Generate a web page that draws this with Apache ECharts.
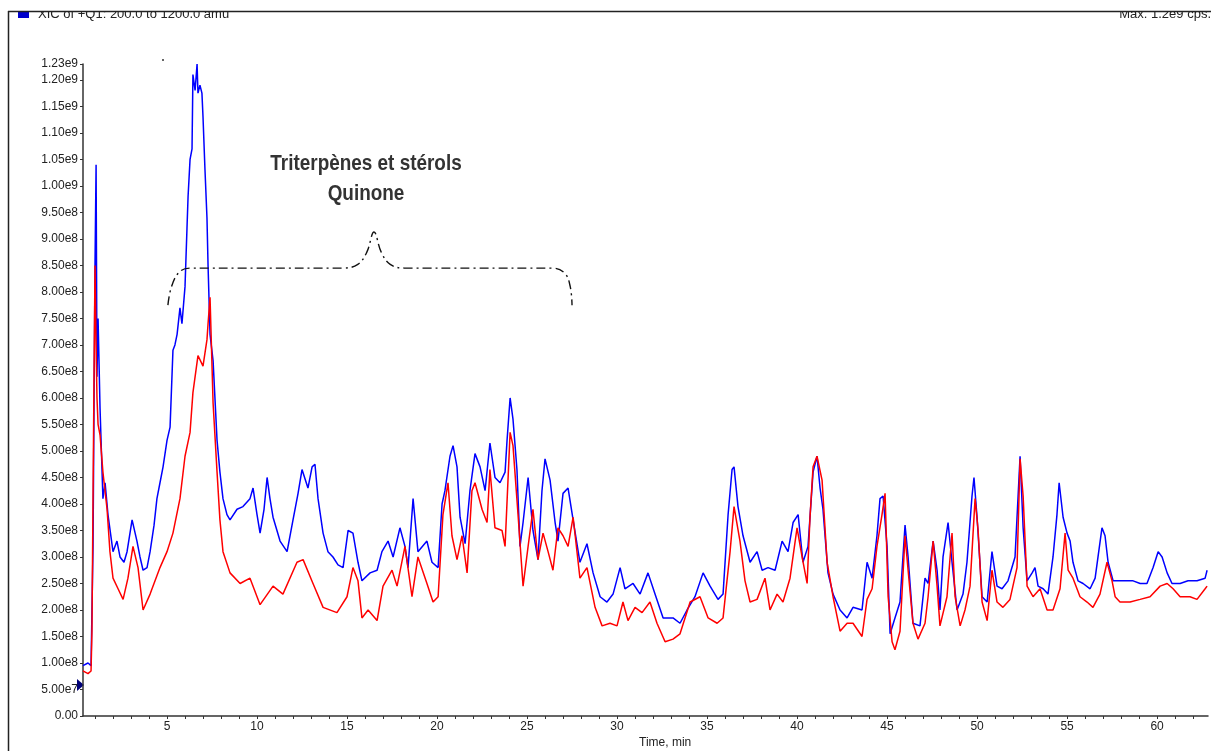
<!DOCTYPE html>
<html>
<head>
<meta charset="utf-8">
<style>
  html, body { margin: 0; padding: 0; background: #fff; }
  #main { width: 1211px; height: 751px; }
</style>
<script src="https://cdn.jsdelivr.net/npm/echarts@6/dist/echarts.min.js"></script>
</head>
<body>
<div id="main"></div>
<script>
// XIC of +Q1 chromatogram, two traces (intensity in units of 1e8 cps)
const blueT = [0.33, 0.61, 0.78, 0.89, 1.00, 1.06, 1.11, 1.17, 1.28, 1.44, 1.56, 1.72, 2.00, 2.22, 2.39, 2.61, 2.78, 3.06, 3.33, 3.50,
  3.67, 3.89, 4.06, 4.28, 4.44, 4.61, 4.78, 5.00, 5.17, 5.33, 5.44, 5.56, 5.72, 5.83, 6.00, 6.11, 6.17, 6.28, 6.39, 6.44,
  6.56, 6.67, 6.72, 6.83, 6.94, 7.00, 7.11, 7.22, 7.28, 7.39, 7.56, 7.78, 7.94, 8.11, 8.33, 8.50, 8.89, 9.22, 9.61, 9.78,
  10.00, 10.17, 10.39, 10.56, 10.72, 10.89, 11.28, 11.67, 12.00, 12.28, 12.50, 12.83, 13.06, 13.22, 13.39, 13.67, 13.94, 14.22, 14.50, 14.78,
  15.06, 15.33, 15.61, 15.83, 16.28, 16.67, 16.94, 17.28, 17.56, 17.94, 18.22, 18.39, 18.67, 18.94, 19.44, 19.72, 20.06, 20.28, 20.44, 20.72,
  20.89, 21.11, 21.28, 21.56, 21.83, 22.11, 22.39, 22.67, 22.94, 23.22, 23.50, 23.78, 23.89, 24.06, 24.22, 24.44, 24.61, 24.78, 25.06, 25.33,
  25.61, 25.83, 26.00, 26.28, 26.56, 26.72, 27.00, 27.28, 27.56, 27.94, 28.33, 28.67, 29.06, 29.44, 29.78, 30.17, 30.44, 30.89, 31.28, 31.72,
  32.11, 32.56, 33.11, 33.50, 33.89, 34.33, 34.78, 35.17, 35.61, 35.89, 36.17, 36.39, 36.50, 36.72, 37.00, 37.39, 37.78, 38.06, 38.39, 38.78,
  39.17, 39.50, 39.78, 40.06, 40.33, 40.61, 40.89, 41.11, 41.28, 41.44, 41.72, 42.00, 42.39, 42.78, 43.11, 43.61, 43.89, 44.17, 44.44, 44.61,
  44.78, 45.00, 45.17, 45.44, 45.72, 46.00, 46.17, 46.44, 46.83, 47.11, 47.28, 47.56, 47.78, 47.94, 48.11, 48.39, 48.61, 48.89, 49.22, 49.44,
  49.72, 49.83, 50.00, 50.28, 50.56, 50.83, 51.11, 51.39, 51.72, 52.11, 52.28, 52.39, 52.56, 52.78, 53.06, 53.22, 53.39, 53.67, 53.94, 54.22,
  54.44, 54.56, 54.78, 55.00, 55.17, 55.33, 55.61, 55.89, 56.28, 56.56, 56.72, 56.94, 57.11, 57.28, 57.56, 57.94, 58.33, 58.67, 59.06, 59.44,
  59.78, 60.06, 60.28, 60.56, 60.83, 61.28, 61.72, 62.22, 62.67, 62.78];
const blueV = [0.95, 1.0, 0.95, 3.2, 8.5, 10.4, 6.4, 7.5, 5.8, 4.1, 4.4, 3.8, 3.1, 3.3, 3.0, 2.9, 3.1, 3.7, 3.3, 3.0,
  2.75, 2.8, 3.1, 3.6, 4.1, 4.4, 4.7, 5.2, 5.45, 6.9, 7.0, 7.2, 7.7, 7.4, 8.1, 9.2, 9.8, 10.5, 10.7, 12.1,
  11.8, 12.3, 11.75, 11.9, 11.75, 11.3, 10.3, 9.4, 8.5, 7.2, 6.7, 5.2, 4.6, 4.1, 3.8, 3.7, 3.9, 3.95, 4.1, 4.3,
  3.8, 3.45, 3.9, 4.5, 4.1, 3.75, 3.3, 3.1, 3.7, 4.2, 4.65, 4.3, 4.7, 4.75, 4.1, 3.45, 3.1, 3.0, 2.85, 2.8,
  3.5, 3.45, 2.9, 2.55, 2.7, 2.75, 3.1, 3.3, 3.0, 3.55, 3.2, 2.8, 4.1, 3.1, 3.3, 2.9, 2.8, 4.0, 4.25, 4.9,
  5.1, 4.7, 3.75, 3.25, 4.25, 4.95, 4.7, 4.25, 5.15, 4.5, 4.4, 4.6, 5.2, 6.0, 5.6, 4.65, 3.2, 3.65, 4.5, 3.5,
  2.95, 4.25, 4.85, 4.45, 3.65, 3.3, 4.2, 4.3, 3.7, 2.9, 3.25, 2.7, 2.25, 2.15, 2.3, 2.8, 2.4, 2.5, 2.3, 2.7,
  2.3, 1.85, 1.85, 1.75, 2.0, 2.25, 2.7, 2.45, 2.2, 2.3, 3.8, 4.65, 4.7, 3.95, 3.4, 2.9, 3.1, 2.75, 2.8, 2.75,
  3.3, 3.1, 3.65, 3.8, 2.9, 3.2, 4.6, 4.9, 4.3, 3.9, 2.7, 2.3, 2.0, 1.85, 2.05, 2.0, 2.9, 2.6, 3.4, 4.1,
  4.15, 3.2, 1.55, 1.85, 2.15, 3.6, 3.0, 1.75, 1.7, 2.6, 2.5, 3.3, 2.75, 2.0, 3.0, 3.65, 2.9, 2.0, 2.3, 2.9,
  4.15, 4.5, 3.75, 2.25, 2.15, 3.1, 2.45, 2.4, 2.55, 3.0, 4.15, 4.9, 3.55, 2.55, 2.7, 2.8, 2.45, 2.4, 2.3, 3.0,
  3.8, 4.4, 3.75, 3.45, 3.3, 2.9, 2.55, 2.5, 2.4, 2.6, 3.0, 3.55, 3.4, 2.9, 2.55, 2.55, 2.55, 2.55, 2.5, 2.5,
  2.8, 3.1, 3.0, 2.7, 2.5, 2.5, 2.55, 2.55, 2.6, 2.75];

const redT = [0.33, 0.61, 0.78, 0.83, 0.94, 1.00, 1.06, 1.11, 1.17, 1.28, 1.44, 1.67, 1.83, 2.00, 2.28, 2.56, 2.83, 3.11, 3.39, 3.67,
  4.06, 4.61, 5.00, 5.33, 5.72, 6.00, 6.28, 6.44, 6.72, 7.00, 7.22, 7.28, 7.39, 7.56, 7.78, 7.94, 8.11, 8.50, 9.06, 9.61,
  10.17, 10.89, 11.44, 12.22, 12.56, 13.11, 13.67, 14.44, 15.00, 15.33, 15.61, 15.83, 16.17, 16.67, 17.00, 17.50, 17.78, 18.22, 18.61, 18.94,
  19.44, 19.78, 20.06, 20.33, 20.61, 20.83, 21.11, 21.39, 21.67, 21.94, 22.11, 22.50, 22.78, 22.94, 23.22, 23.61, 23.78, 24.06, 24.22, 24.50,
  24.78, 25.06, 25.33, 25.61, 25.89, 26.17, 26.44, 26.72, 27.00, 27.28, 27.56, 27.94, 28.33, 28.78, 29.17, 29.61, 30.00, 30.33, 30.61, 31.00,
  31.39, 31.83, 32.22, 32.67, 33.11, 33.50, 34.06, 34.61, 35.06, 35.56, 35.89, 36.28, 36.50, 36.83, 37.11, 37.39, 37.78, 38.22, 38.50, 38.89,
  39.22, 39.61, 40.00, 40.28, 40.56, 40.72, 40.89, 41.11, 41.39, 41.67, 42.00, 42.39, 42.78, 43.11, 43.61, 43.89, 44.17, 44.44, 44.72, 44.89,
  45.06, 45.28, 45.44, 45.72, 46.00, 46.17, 46.44, 46.72, 47.11, 47.28, 47.56, 47.78, 47.94, 48.33, 48.61, 48.78, 49.06, 49.33, 49.61, 49.89,
  50.06, 50.28, 50.56, 50.83, 51.11, 51.44, 51.83, 52.22, 52.39, 52.56, 52.78, 53.11, 53.50, 53.89, 54.22, 54.61, 54.89, 55.06, 55.33, 55.72,
  56.11, 56.44, 56.83, 57.22, 57.50, 57.67, 57.94, 58.50, 59.06, 59.61, 60.17, 60.56, 60.89, 61.28, 61.83, 62.22, 62.67, 62.78];
const redV = [0.85, 0.8, 0.85, 1.6, 6.2, 8.5, 7.0, 6.0, 5.5, 5.3, 4.6, 3.9, 3.1, 2.6, 2.4, 2.2, 2.6, 3.2, 2.8, 2.0,
  2.3, 2.8, 3.1, 3.45, 4.1, 4.9, 5.35, 6.1, 6.8, 6.6, 7.1, 7.4, 7.9, 5.9, 4.6, 3.7, 3.1, 2.7, 2.5, 2.6,
  2.1, 2.45, 2.3, 2.9, 2.95, 2.5, 2.05, 1.95, 2.25, 2.8, 2.55, 1.85, 2.0, 1.8, 2.45, 2.75, 2.45, 3.2, 2.25, 3.0,
  2.5, 2.15, 2.25, 3.8, 4.4, 3.4, 2.95, 3.4, 2.7, 4.25, 4.4, 3.9, 3.65, 4.65, 3.55, 3.5, 3.2, 5.35, 5.1, 3.8,
  2.45, 3.2, 3.9, 2.95, 3.45, 3.1, 2.75, 3.55, 3.4, 3.2, 3.75, 2.6, 2.8, 2.05, 1.7, 1.75, 1.7, 2.15, 1.8, 2.05,
  1.95, 2.15, 1.75, 1.4, 1.45, 1.55, 2.15, 2.25, 1.85, 1.75, 1.85, 3.1, 3.95, 3.3, 2.55, 2.15, 2.2, 2.6, 2.0, 2.3,
  2.15, 2.6, 3.55, 3.0, 2.5, 3.75, 4.7, 4.9, 4.45, 2.9, 2.25, 1.6, 1.75, 1.75, 1.5, 2.2, 2.4, 3.2, 3.8, 4.2,
  2.25, 1.4, 1.25, 1.6, 3.4, 2.75, 1.75, 1.45, 1.75, 2.25, 3.3, 2.45, 1.7, 2.25, 3.45, 2.25, 1.7, 2.0, 2.45, 4.1,
  3.5, 2.15, 1.8, 2.75, 2.15, 2.05, 2.2, 2.8, 4.85, 4.15, 2.45, 2.25, 2.4, 2.0, 2.0, 2.4, 3.45, 2.75, 2.6, 2.25,
  2.15, 2.05, 2.3, 2.9, 2.55, 2.25, 2.15, 2.15, 2.2, 2.25, 2.45, 2.5, 2.4, 2.25, 2.25, 2.2, 2.4, 2.45];

// curly brace over the "Triterpènes et stérols / Quinone" region
const braceT = [5.05, 5.25, 5.7, 6.3, 10.0, 14.8, 15.6, 16.1, 16.5, 16.9, 17.4, 18.2, 22.0, 26.4, 27.1, 27.4, 27.5];
const braceV = [7.75, 8.1, 8.38, 8.45, 8.45, 8.45, 8.52, 8.75, 9.13, 8.75, 8.52, 8.45, 8.45, 8.45, 8.35, 8.1, 7.75];

const xLabels = [5, 10, 15, 20, 25, 30, 35, 40, 45, 50, 55, 60];
const xTicks = [];
for (let m = 1; m <= 62; m++) xTicks.push(m);

const E8 = 1e8;
const toPairs = function (ts, vs) { return ts.map(function (t, i) { return [t, vs[i] * E8]; }); };

const chart = echarts.init(document.getElementById('main'), null, { renderer: 'canvas' });
const FONT = 'Liberation Sans, Arial, sans-serif';
const NOTE_FONT = 'bold 22px "Liberation Sans Narrow", "Liberation Sans", sans-serif';
const AXIS = '#333';

chart.setOption({
  animation: false,
  backgroundColor: '#fff',
  grid: { left: 83, right: 3, top: 64, bottom: 35 },
  xAxis: {
    type: 'value',
    min: 0.333,
    max: 62.83,
    axisLine: { lineStyle: { color: AXIS, width: 1.5 } },
    axisTick: { customValues: xTicks, length: 3, lineStyle: { color: AXIS } },
    axisLabel: { customValues: xLabels, color: '#222', fontFamily: FONT, fontSize: 12, margin: 5 },
    splitLine: { show: false }
  },
  yAxis: {
    type: 'value',
    min: 0,
    max: 1.23e9,
    interval: 5e7,
    axisLine: { show: true, lineStyle: { color: AXIS, width: 1.5 } },
    axisTick: { show: true, length: 3, lineStyle: { color: AXIS } },
    axisLabel: {
      showMaxLabel: true,
      color: '#222', fontFamily: FONT, fontSize: 12, margin: 5,
      formatter: function (v) { return v === 0 ? '0.00' : v.toExponential(2).replace('e+', 'e'); }
    },
    splitLine: { show: false }
  },
  series: [
    {
      name: 'blue', type: 'line', data: toPairs(blueT, blueV), showSymbol: false, silent: true,
      lineStyle: { color: '#0000ff', width: 1.5 }
    },
    {
      name: 'red', type: 'line', data: toPairs(redT, redV), showSymbol: false, silent: true,
      lineStyle: { color: '#ff0000', width: 1.5 }
    },
    {
      name: 'brace', type: 'line', data: toPairs(braceT, braceV), showSymbol: false, silent: true, smooth: 0.4,
      lineStyle: { color: '#111', width: 1.4, type: [9, 4, 2, 4] }
    }
  ],
  graphic: [
    { type: 'text', x: 366, y: 164, scaleX: 0.86, style: { text: 'Triterpènes et stérols', font: NOTE_FONT, fill: '#333', align: 'center', verticalAlign: 'middle' } },
    { type: 'text', x: 366, y: 194, scaleX: 0.86, style: { text: 'Quinone', font: NOTE_FONT, fill: '#333', align: 'center', verticalAlign: 'middle' } },
    { type: 'text', left: 639, top: 737, style: { text: 'Time, min', font: '12px ' + FONT, fill: '#222', align: 'center' } },
    // header (clipped by frame top)
    { type: 'rect', shape: { x: 18, y: 11, width: 11, height: 7 }, style: { fill: '#0000cc' } },
    { type: 'text', left: 38, top: 8, style: { text: 'XIC of +Q1: 200.0 to 1200.0 amu', font: '13px ' + FONT, fill: '#222' } },
    { type: 'text', right: 0, top: 8, style: { text: 'Max. 1.2e9 cps.', font: '13px ' + FONT, fill: '#222' } },
    { type: 'rect', z: 50, shape: { x: 0, y: 0, width: 1211, height: 12 }, style: { fill: '#fff' } },
    { type: 'line', z: 51, shape: { x1: 8, y1: 11.5, x2: 1211, y2: 11.5 }, style: { stroke: '#222', lineWidth: 1.5 } },
    { type: 'line', z: 51, shape: { x1: 8.5, y1: 11, x2: 8.5, y2: 751 }, style: { stroke: '#222', lineWidth: 1.5 } },
    { type: 'polygon', shape: { points: [[77, 679], [84, 685], [77, 691]] }, style: { fill: '#00007a' } },
    { type: 'circle', shape: { cx: 163, cy: 60, r: 1 }, style: { fill: '#333' } }
  ]
});
</script>
</body>
</html>
